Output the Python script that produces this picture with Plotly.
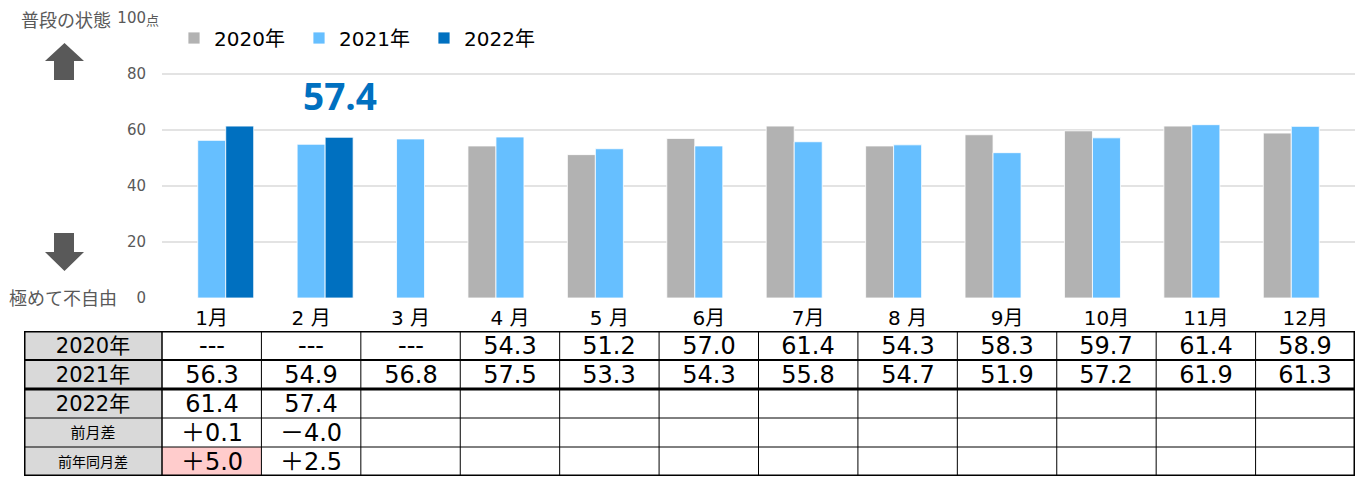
import plotly.graph_objects as go

# ---------------- data ----------------
months = ["1月", "2 月", "3 月", "4 月", "5 月", "6月", "7月", "8 月", "9月", "10月", "11月", "12月"]
series_names = ["2020年", "2021年", "2022年"]
v2020 = [None, None, None, 54.3, 51.2, 57.0, 61.4, 54.3, 58.3, 59.7, 61.4, 58.9]
v2021 = [56.3, 54.9, 56.8, 57.5, 53.3, 54.3, 55.8, 54.7, 51.9, 57.2, 61.9, 61.3]
v2022 = [61.4, 57.4, None, None, None, None, None, None, None, None, None, None]
mom_diff = [0.1, -4.0, None, None, None, None, None, None, None, None, None, None]
yoy_diff = [5.0, 2.5, None, None, None, None, None, None, None, None, None, None]
row_labels = ["2020年", "2021年", "2022年", "前月差", "前年同月差"]
y_ticks = [0, 20, 40, 60, 80, 100]
highlight_cell = (4, 0)          # (row, month index) shown in pink
callout_value = v2022[1]

# ---------------- styles ----------------
W, H = 1361, 477
colors = ["#b2b2b2", "#66bfff", "#0070c0"]
GRAY_TXT = "#595959"
FONT = "DejaVu Sans, Noto Sans CJK JP, sans-serif"
CJK = "Noto Sans CJK JP, sans-serif"
label_sizes = [21, 21, 21, 15, 14]
label_fonts = [FONT, FONT, FONT, CJK, CJK]


def px(x):
    return x / W


def py(y):
    return 1 - y / H


fig = go.Figure()

for name, vals, col in zip(series_names, [v2020, v2021, v2022], colors):
    fig.add_trace(go.Bar(
        x=months, y=vals, name=name,
        marker=dict(color=col, line=dict(color="rgba(255,255,255,0.8)", width=1)),
        hoverinfo="skip",
    ))

# ---------------- table (heatmaps on second axes) ----------------
ncol = len(months)
plot_left, plot_right, tab_left = 162, 1355, 24
band = (plot_right - plot_left) / ncol
L = (plot_left - tab_left) / band


def fmt(v):
    return "---" if v is None else f"{v:.1f}"


def fmt_blank(v):
    return "" if v is None else f"{v:.1f}"


def fmt_diff(d):
    if d is None:
        return ""
    return ("＋" if d >= 0 else "－") + f"{abs(d):.1f}"


table_text = [
    [fmt(v) for v in v2020],
    [fmt_blank(v) for v in v2021],
    [fmt_blank(v) for v in v2022],
    [fmt_diff(d) for d in mom_diff],
    [fmt_diff(d) for d in yoy_diff],
]
nrow = len(table_text)
table_z = [[0] * ncol for _ in range(nrow)]
table_z[highlight_cell[0]][highlight_cell[1]] = 2

cscale = [[0, "#ffffff"], [0.5, "#d9d9d9"], [1, "#ffcccc"]]

fig.add_trace(go.Heatmap(
    x=list(range(ncol)), y=list(range(nrow)), z=table_z, text=table_text,
    texttemplate="%{text}", textfont=dict(size=24, color="black", family=FONT),
    colorscale=cscale, zmin=0, zmax=2, showscale=False, hoverinfo="skip",
    xaxis="x2", yaxis="y2",
))
for r, (lbl, fs, ff) in enumerate(zip(row_labels, label_sizes, label_fonts)):
    fig.add_trace(go.Heatmap(
        x=[-0.5 - L, -0.5], y=[r - 0.5, r + 0.5], z=[[1]], text=[[lbl]],
        texttemplate="%{text}", textfont=dict(size=fs, color="black", family=ff),
        colorscale=cscale, zmin=0, zmax=2, showscale=False, hoverinfo="skip",
        xaxis="x2", yaxis="y2",
    ))

shapes = []
# horizontal table lines
h_widths = [3, 2, 3, 1, 1, 3]
for i, w in enumerate(h_widths):
    yb = i - 0.5
    shapes.append(dict(type="line", xref="x2", yref="y2", x0=-0.5 - L, x1=ncol - 0.5,
                       y0=yb, y1=yb, line=dict(color="black", width=w), layer="above"))
# vertical table lines
v_edges = [-0.5 - L] + [c - 0.5 for c in range(ncol + 1)]
for j, xb in enumerate(v_edges):
    w = 3 if j in (0, len(v_edges) - 1) else (1.5 if j == 1 else 1)
    shapes.append(dict(type="line", xref="x2", yref="y2", x0=xb, x1=xb,
                       y0=-0.5, y1=nrow - 0.5, line=dict(color="black", width=w), layer="above"))


# arrows
def arrow(tip_y, base_y, shaft_end_y):
    hx0, hx1, sx0, sx1 = 45, 84, 54, 74
    cx = (hx0 + hx1) / 2
    pts = [(cx, tip_y), (hx1, base_y), (sx1, base_y), (sx1, shaft_end_y),
           (sx0, shaft_end_y), (sx0, base_y), (hx0, base_y)]
    path = "M " + " L ".join(f"{px(x):.5f},{py(y):.5f}" for x, y in pts) + " Z"
    return dict(type="path", xref="paper", yref="paper", path=path,
                fillcolor=GRAY_TXT, line=dict(width=0))


shapes.append(arrow(43, 61, 80))
shapes.append(arrow(271, 252, 233))

annotations = [
    dict(text="普段の状態", x=px(19), y=py(19), xref="paper", yref="paper",
         xanchor="left", yanchor="middle", showarrow=False,
         font=dict(size=18, color=GRAY_TXT, family=CJK)),
    dict(text="極めて不自由", x=px(7), y=py(297), xref="paper", yref="paper",
         xanchor="left", yanchor="middle", showarrow=False,
         font=dict(size=18, color=GRAY_TXT, family=CJK)),
    dict(text="点", x=px(144), y=py(19), xref="paper", yref="paper",
         xanchor="left", yanchor="middle", showarrow=False,
         font=dict(size=13, color=GRAY_TXT, family=CJK)),
    dict(text=f"<b>{callout_value}</b>", x=px(340), y=py(96), xref="paper", yref="paper",
         xanchor="center", yanchor="middle", showarrow=False,
         font=dict(size=37, color="#0070c0", family="Open Sans, sans-serif")),
]

fig.update_layout(
    width=W, height=H,
    margin=dict(l=0, r=0, t=0, b=0, pad=0, autoexpand=False),
    paper_bgcolor="white", plot_bgcolor="white",
    barmode="group", bargap=0.155, bargroupgap=0,
    font=dict(family=FONT, color="black"),
    hovermode=False,
    showlegend=True,
    legend=dict(orientation="h", x=px(174), y=py(38), xanchor="left", yanchor="middle",
                font=dict(size=20, color="black", family=FONT), bgcolor="rgba(0,0,0,0)",
                entrywidth=80, traceorder="normal", itemwidth=30),
    xaxis=dict(domain=[px(plot_left), px(plot_right)], type="category",
               showgrid=False, showline=False, ticks="", zeroline=False,
               tickfont=dict(size=20, color="black", family=FONT), ticklabelstandoff=6,
               anchor="y", automargin=False),
    yaxis=dict(domain=[py(298), py(18)], range=[0, 100], tickvals=y_ticks,
               ticktext=[str(t) for t in y_ticks],
               showgrid=True, gridcolor="#e3e3e3", gridwidth=2, zeroline=False,
               showline=False, ticks="", ticklabelstandoff=15,
               tickfont=dict(size=15, color=GRAY_TXT, family=FONT), anchor="x",
               automargin=False),
    xaxis2=dict(domain=[px(tab_left), px(plot_right)], range=[-0.5 - L, ncol - 0.5],
                visible=False, anchor="y2", fixedrange=True, automargin=False),
    yaxis2=dict(domain=[py(476), py(331)], range=[nrow - 0.5, -0.5],
                visible=False, anchor="x2", fixedrange=True, automargin=False),
    shapes=shapes,
    annotations=annotations,
)

fig.write_html(
    "out.html",
    config={"displayModeBar": False},
    post_script="document.body.style.margin='0';document.body.style.overflow='hidden';",
)
